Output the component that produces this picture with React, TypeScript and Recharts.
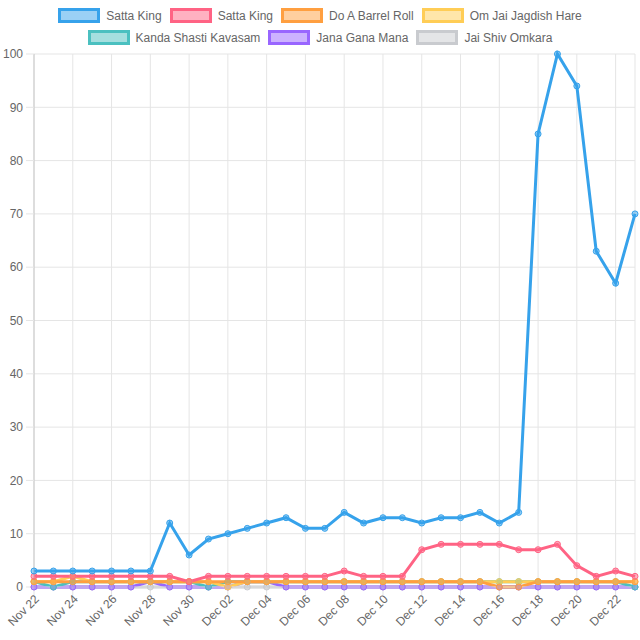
import React from 'react';
import { LineChart, Line, XAxis, YAxis, CartesianGrid } from 'recharts';

const dates = [
  'Nov 22', 'Nov 23', 'Nov 24', 'Nov 25', 'Nov 26', 'Nov 27', 'Nov 28', 'Nov 29', 'Nov 30',
  'Dec 01', 'Dec 02', 'Dec 03', 'Dec 04', 'Dec 05', 'Dec 06', 'Dec 07', 'Dec 08', 'Dec 09',
  'Dec 10', 'Dec 11', 'Dec 12', 'Dec 13', 'Dec 14', 'Dec 15', 'Dec 16', 'Dec 17', 'Dec 18',
  'Dec 19', 'Dec 20', 'Dec 21', 'Dec 22', 'Dec 23',
];

const sattaKingA = [3, 3, 3, 3, 3, 3, 3, 12, 6, 9, 10, 11, 12, 13, 11, 11, 14, 12, 13, 13, 12, 13, 13, 14, 12, 14, 85, 100, 94, 63, 57, 70];
const sattaKingB = [2, 2, 2, 2, 2, 2, 2, 2, 1, 2, 2, 2, 2, 2, 2, 2, 3, 2, 2, 2, 7, 8, 8, 8, 8, 7, 7, 8, 4, 2, 3, 2];
const barrelRoll = [1, 1, 1, 1, 1, 1, 1, 1, 1, 1, 1, 1, 1, 1, 1, 1, 1, 1, 1, 1, 1, 1, 1, 1, 0, 0, 1, 1, 1, 1, 1, 1];
const omJai = [1, 1, 2, 1, 1, 1, 1, 1, 1, 1, 0, 1, 1, 1, 1, 1, 1, 1, 1, 1, 1, 1, 1, 1, 1, 1, 1, 1, 1, 1, 1, 1];
const kandaShasti = [1, 0, 1, 1, 1, 1, 1, 1, 1, 0, 1, 1, 1, 1, 1, 1, 1, 1, 1, 1, 1, 1, 1, 1, 1, 1, 1, 1, 1, 1, 1, 0];
const janaGana = [0, 0, 0, 0, 0, 0, 1, 0, 0, 0, 0, 1, 1, 0, 0, 0, 0, 0, 0, 0, 0, 0, 0, 0, 0, 0, 0, 0, 0, 0, 0, 0];
const jaiShiv = [0, 0, 0, 0, 0, 0, 0, 0, 0, 0, 0, 0, 0, 0, 0, 0, 0, 0, 0, 0, 0, 0, 0, 0, 0, 0, 0, 0, 0, 0, 0, 0];

const yTicks = [0, 10, 20, 30, 40, 50, 60, 70, 80, 90, 100];

const series = [
  { key: 's0', name: 'Satta King', values: sattaKingA, color: 'rgb(54,162,235)', bg: 'rgba(54,162,235,0.5)' },
  { key: 's1', name: 'Satta King', values: sattaKingB, color: 'rgb(255,99,132)', bg: 'rgba(255,99,132,0.5)' },
  { key: 's2', name: 'Do A Barrel Roll', values: barrelRoll, color: 'rgb(255,159,64)', bg: 'rgba(255,159,64,0.5)' },
  { key: 's3', name: 'Om Jai Jagdish Hare', values: omJai, color: 'rgb(255,205,86)', bg: 'rgba(255,205,86,0.5)' },
  { key: 's4', name: 'Kanda Shasti Kavasam', values: kandaShasti, color: 'rgb(75,192,192)', bg: 'rgba(75,192,192,0.5)' },
  { key: 's5', name: 'Jana Gana Mana', values: janaGana, color: 'rgb(153,102,255)', bg: 'rgba(153,102,255,0.5)' },
  { key: 's6', name: 'Jai Shiv Omkara', values: jaiShiv, color: 'rgb(201,203,207)', bg: 'rgba(201,203,207,0.5)' },
];

const data = dates.map((d, i) => {
  const row: Record<string, string | number> = { date: d };
  series.forEach((s) => { row[s.key] = s.values[i]; });
  return row;
});

const FONT = '"Liberation Sans", Arial, Helvetica, sans-serif';

function XTick(props: any) {
  const { x, y, payload } = props;
  return (
    <g transform={`translate(${x + 3},${y})`}>
      <text x={0} y={0} dy={4} textAnchor="end" transform="rotate(-45)" fill="#666" fontSize={12} fontFamily={FONT}>
        {payload.value}
      </text>
    </g>
  );
}

function LegendRow({ items }: { items: typeof series }) {
  return (
    <div style={{ display: 'flex', justifyContent: 'center', alignItems: 'center', height: 15 }}>
      {items.map((s, i) => (
        <div key={s.key} style={{ display: 'flex', alignItems: 'center', marginLeft: i === 0 ? 0 : 8 }}>
          <span style={{ display: 'inline-block', width: 36, height: 9, border: `3px solid ${s.color}`, background: s.bg, marginRight: 6 }} />
          <span style={{ fontSize: 12, color: '#666', fontFamily: FONT, whiteSpace: 'nowrap' }}>{s.name}</span>
        </div>
      ))}
    </div>
  );
}

export default function App() {
  return (
    <div style={{ position: 'absolute', left: 0, top: 0, width: 640, height: 640, background: '#fff' }}>
      <div style={{ position: 'absolute', left: 0, top: 8, width: 640 }}>
        <LegendRow items={series.slice(0, 4)} />
        <div style={{ height: 7 }} />
        <LegendRow items={series.slice(4)} />
      </div>
      <LineChart width={640} height={640} data={data} margin={{ top: 54, right: 5, left: 0, bottom: 0 }}>
        <CartesianGrid stroke="#e5e5e5" />
        <XAxis
          dataKey="date"
          interval={1}
          height={53}
          tickSize={8}
          tickMargin={2}
          tickLine={{ stroke: '#e5e5e5' }}
          axisLine={{ stroke: '#e5e5e5' }}
          tick={<XTick />}
        />
        <YAxis
          domain={[0, 100]}
          ticks={yTicks}
          width={34}
          tickSize={8}
          tickMargin={3}
          tickLine={{ stroke: '#e5e5e5' }}
          axisLine={{ stroke: '#c8c8c8' }}
          tick={{ fill: '#666', fontSize: 12, fontFamily: FONT }}
        />
        {[...series].reverse().map((s) => (
          <Line
            key={s.key}
            type="linear"
            dataKey={s.key}
            name={s.name}
            stroke={s.color}
            strokeWidth={3}
            dot={{ r: 3, fill: s.bg, stroke: s.color, strokeWidth: 1 }}
            activeDot={false}
            isAnimationActive={false}
          />
        ))}
      </LineChart>
    </div>
  );
}
